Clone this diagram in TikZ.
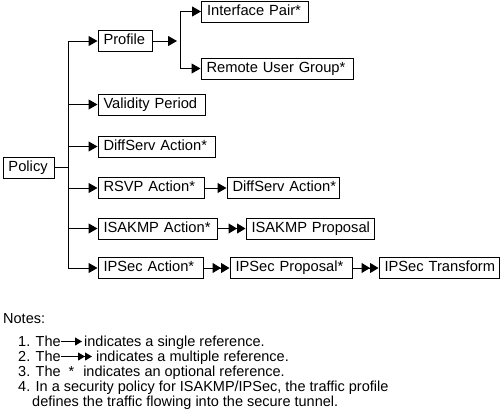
\documentclass[tikz,border=0pt]{standalone}
\usepackage{fontspec}
\setmainfont{Liberation Sans}
\usetikzlibrary{arrows.meta}
\tikzset{
  box/.style={draw, line width=1pt, anchor=west, inner xsep=5.5pt, inner ysep=0pt,
    minimum height=21pt, text height=10.5pt, text depth=3pt, align=left,
    font=\fontsize{14.7}{17}\selectfont, text width=#1},
  link/.style={line width=1pt},
  one/.style={line width=1pt, -{Triangle[length=9pt,width=10pt]}},
  many/.style={line width=1pt, -{Triangle[length=8.5pt,width=10pt,sep=0pt]Triangle[length=8.5pt,width=10pt]}},
  onesmall/.style={line width=1pt, -{Triangle[length=7pt,width=8pt]}},
  manysmall/.style={line width=1pt, -{Triangle[length=7pt,width=8pt,sep=0pt]Triangle[length=7pt,width=8pt]}},
  note/.style={anchor=base west, inner sep=0pt, font=\fontsize{14.5}{16}\selectfont},
}
\begin{document}
\begin{tikzpicture}[x=1pt,y=-1pt]
\useasboundingbox (0,0) rectangle (500,416);
% boxes
\node[box=40pt]  (pol)  at (2.5,167.5)  {\mbox{Policy}};
\node[box=43pt]  (prof) at (97.5,41)    {\mbox{Profile}};
\node[box=96pt]  (ifp)  at (201,11.5)   {\mbox{Interface Pair*}};
\node[box=141pt] (rug)  at (200.5,68.5) {\mbox{Remote User Group*}};
\node[box=96pt]  (val)  at (97.5,104.5) {\mbox{Validity Period}};
\node[box=106pt] (dsa)  at (97.5,146.5) {\mbox{DiffServ Action*}};
\node[box=95pt]  (rsvp) at (97.5,188)   {\mbox{RSVP Action*}};
\node[box=101pt] (dsb)  at (226.5,188)  {\mbox{DiffServ Action*}};
\node[box=108pt] (isa)  at (97.5,228.5) {\mbox{ISAKMP Action*}};
\node[box=117pt] (isp)  at (245.5,228.5){\mbox{ISAKMP Proposal}};
\node[box=94pt]  (ipa)  at (97.5,268)   {\mbox{IPSec Action*}};
\node[box=111pt] (ipp)  at (229.5,268)  {\mbox{IPSec Proposal*}};
\node[box=109pt] (ipt)  at (378.5,268)  {\mbox{IPSec Transform}};
% trunk
\coordinate (tt) at (68,41);
\coordinate (tb) at (68,268);
\draw[link] (pol.east) -- (pol.east -| tt);
\draw[link] (tt) -- (tb);
\draw[one] (tt) -- (prof.west);
\draw[one] (tt |- val.west) -- (val.west);
\draw[one] (tt |- dsa.west) -- (dsa.west);
\draw[one] (tt |- rsvp.west) -- (rsvp.west);
\draw[one] (tt |- isa.west) -- (isa.west);
\draw[one] (tb) -- (ipa.west);
% profile branch
\coordinate (pj) at (177,41);
\coordinate (jt) at (180,11.5);
\coordinate (jb) at (180,68.5);
\draw[one] (prof.east) -- (pj);
\draw[link] (jt) -- (jb);
\draw[one] (jt) -- (ifp.west);
\draw[one] (jb) -- (rug.west);
% chains
\draw[one] (rsvp.east) -- (dsb.west);
\draw[many] (isa.east) -- (isp.west);
\draw[many] (ipa.east) -- (ipp.west);
\draw[many] (ipp.east) -- (ipt.west);
% notes
\node[note] (nh) at (3,323) {Notes:};
\node[note] (n1) at (18,346) {1. The};
\coordinate (a1s) at (61,341.5);
\coordinate (a1e) at (82,341.5);
\draw[onesmall] (a1s) -- (a1e);
\node[note] (n1b) at (84,346) {indicates a single reference.};
\node[note] (n2) at (18,361) {2. The};
\coordinate (a2s) at (61,356.5);
\coordinate (a2e) at (92,356.5);
\draw[manysmall] (a2s) -- (a2e);
\node[note] (n2b) at (96,361) {indicates a multiple reference.};
\node[note] (n3) at (18,376) {3. The\hspace{8pt}*\hspace{9pt}indicates an optional reference.};
\node[note] (n4) at (18,391) {4. In a security policy for ISAKMP/IPSec, the traffic profile};
\node[note] (n5) at (32,406) {defines the traffic flowing into the secure tunnel.};
\end{tikzpicture}
\end{document}
